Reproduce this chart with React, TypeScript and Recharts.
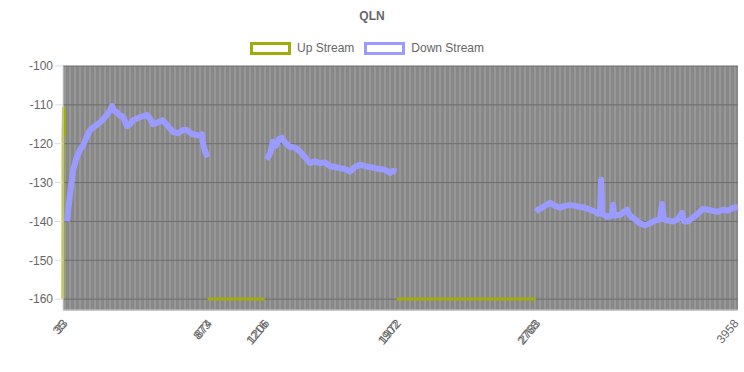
import React from 'react';
import { LineChart, Line, XAxis, YAxis, CartesianGrid } from 'recharts';

// tone index / dBm/Hz values
const dsTones1 = [56, 62, 74, 91, 109, 132, 149, 173, 190, 219, 248, 271, 289, 306, 318, 330, 347, 364, 382, 405, 423, 440, 463, 492, 521, 539, 556, 585, 614, 644, 673, 702, 731, 754, 783, 812, 830, 841, 847, 860, 873];
const dsValues1 = [-140, -137.5, -133, -127, -124, -121.5, -120.5, -118, -116.5, -115.5, -114.5, -113.5, -112.5, -111.5, -110.3, -111.5, -112, -112.8, -113, -115.5, -115, -114, -113.5, -113, -112.6, -113.5, -115, -114.5, -114, -115.5, -117, -117.3, -116.5, -116.5, -117.5, -117.8, -118, -117.6, -120, -122, -123.5];

const dsTones2 = [1216, 1225, 1237, 1254, 1272, 1289, 1306, 1330, 1353, 1382, 1411, 1440, 1469, 1498, 1527, 1556, 1586, 1615, 1644, 1673, 1702, 1731, 1760, 1789, 1818, 1847, 1876, 1905, 1934, 1952, 1972];
const dsValues2 = [-124, -123.5, -122.5, -119.5, -120.5, -118.8, -118.5, -120, -120.8, -121, -122, -123.5, -125, -124.5, -125, -124.8, -125.8, -126, -126.3, -126.5, -127.2, -126, -125.4, -125.8, -126, -126.3, -126.5, -126.7, -127.5, -127, -127.2];

const dsTones3 = [2783, 2795, 2818, 2842, 2865, 2894, 2923, 2952, 2981, 3010, 3039, 3068, 3098, 3127, 3144, 3156, 3162, 3168, 3197, 3226, 3232, 3238, 3272, 3301, 3313, 3330, 3359, 3388, 3417, 3446, 3475, 3504, 3516, 3528, 3551, 3580, 3609, 3632, 3644, 3667, 3696, 3725, 3755, 3784, 3813, 3842, 3871, 3900, 3929, 3958];
const dsValues3 = [-137.5, -137, -136.5, -135.8, -135.2, -136, -136.5, -136, -135.8, -136, -136.3, -136.5, -137, -137.5, -138, -137.8, -129.3, -138, -138.8, -138.5, -135.7, -138.5, -138.3, -137.3, -137, -138.5, -139.5, -140.5, -141, -140.5, -139.8, -139.5, -135.5, -139.5, -139.8, -140, -139.5, -137.8, -140, -140, -139, -138, -136.8, -137, -137.3, -137.5, -137, -137.2, -136.5, -136.3];

const usTones = [33, 34, 36, 40, 42, 874, 1206, 1972, 2783];
const usValues = [-160, -117, -111, -111, -118, -160, -160, -160, -160];
const usBreaks = [42]; // last point before a gap

const xTicks = [33, 874, 1206, 1972, 2783, 3958];
const xTickOverlay: Record<number, string> = { 33: '35', 874: '873', 1206: '1216', 1972: '1902', 2783: '2768' };
const yTicks = [-160, -150, -140, -130, -120, -110, -100];

const UP = '#a0ac0c';
const DOWN = '#9b9bff';
const FONT = 'Arial, "Liberation Sans", sans-serif';

const toRows = (tones: number[], values: number[]) => tones.map((tone, i) => ({ tone, v: values[i] }));

const dsData = [
  ...toRows(dsTones1, dsValues1),
  { tone: 874, v: null },
  ...toRows(dsTones2, dsValues2),
  { tone: 2000, v: null },
  ...toRows(dsTones3, dsValues3),
];

const usData: { tone: number; v: number | null }[] = [];
usTones.forEach((tone, i) => {
  usData.push({ tone, v: usValues[i] });
  if (usBreaks.includes(tone)) usData.push({ tone: tone + 1, v: null });
});
// break between the two upstream bands
usData.splice(usData.findIndex(d => d.tone === 1972), 0, { tone: 1500, v: null });

const XTick = (props: any) => {
  const { x, y, payload } = props;
  const extra = xTickOverlay[payload.value];
  const last = payload.value === xTicks[xTicks.length - 1];
  const common = { fill: '#666', fontSize: 12, fontFamily: FONT, textAnchor: 'end' as const, transform: 'rotate(-50)' };
  return (
    <g transform={`translate(${last ? x - 2 : x + 2},${y + 3})`}>
      <text {...common} dy="0.35em">{payload.value}</text>
      {extra && <text {...common} dx={-2} dy="0.35em">{extra}</text>}
    </g>
  );
};

const LegendBox = ({ color, label }: { color: string; label: string }) => (
  <div style={{ display: 'flex', alignItems: 'center', marginRight: 10 }}>
    <div style={{ width: 35, height: 7, border: `3px solid ${color}`, background: '#fff', marginRight: 6 }} />
    <span>{label}</span>
  </div>
);

export default function App() {
  return (
    <div style={{ position: 'absolute', left: 0, top: 0, width: 744, height: 372, background: '#fff', fontFamily: FONT }}>
      <div style={{ position: 'absolute', top: 9, left: 0, width: 744, textAlign: 'center', fontSize: 12, fontWeight: 'bold', color: '#666' }}>QLN</div>
      <div style={{ position: 'absolute', top: 41, left: 0, width: 744, display: 'flex', justifyContent: 'center', fontSize: 12, color: '#666', paddingRight: 6 }}>
        <LegendBox color={UP} label="Up Stream" />
        <LegendBox color={DOWN} label="Down Stream" />
      </div>
      <LineChart width={744} height={372} margin={{ top: 66, right: 6, bottom: 0, left: 0 }}>
        <CartesianGrid
          horizontal={false}
          fill="#888888"
          stroke="#979797"
          strokeWidth={2}
          verticalCoordinatesGenerator={({ offset }: any) => {
            const pts: number[] = [];
            for (let px = offset.left + 2; px < offset.left + offset.width; px += 5) pts.push(px);
            return pts;
          }}
        />
        <CartesianGrid vertical={false} stroke="#6c6c6c" strokeWidth={1} />
        <XAxis
          dataKey="tone"
          type="number"
          domain={[33, 3958]}
          ticks={xTicks}
          interval={0}
          height={62}
          tick={<XTick />}
          axisLine={{ stroke: '#ddd' }}
          tickLine={false}
          allowDuplicatedCategory={false}
        />
        <YAxis
          type="number"
          domain={[-162.8, -100]}
          ticks={yTicks}
          width={63}
          tick={{ fill: '#666', fontSize: 12, fontFamily: FONT }}
          axisLine={{ stroke: '#ddd' }}
          tickLine={{ stroke: '#ddd' }}
          tickSize={8}
          allowDataOverflow
        />
        <Line data={usData} dataKey="v" stroke={UP} strokeWidth={3} dot={false} isAnimationActive={false} connectNulls={false} />
        <Line data={dsData} dataKey="v" stroke={DOWN} strokeWidth={6} strokeLinejoin="round" dot={false} isAnimationActive={false} connectNulls={false} />
      </LineChart>
    </div>
  );
}
